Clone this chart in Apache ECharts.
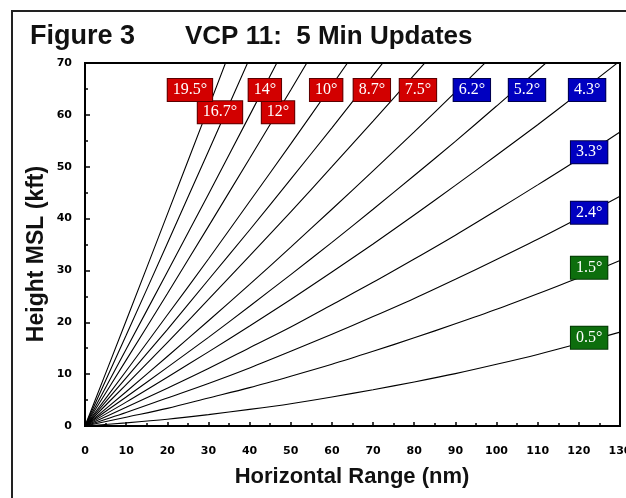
<!DOCTYPE html>
<html>
<head>
<meta charset="utf-8">
<script src="https://cdn.jsdelivr.net/npm/echarts@6/dist/echarts.min.js"></script>
<style>html,body{margin:0;padding:0;background:#fff;}#c{width:626px;height:498px;}</style>
</head>
<body>
<div id="c"></div>
<script>
// Horizontal range (nm) sample points
var ranges = [0, 10, 20, 30, 40, 50, 60, 70, 80, 90, 100, 110, 120, 130];
// Elevation angle names
var angles = ['0.5', '1.5', '2.4', '3.3', '4.3', '5.2', '6.2', '7.5', '8.7', '10', '12', '14', '16.7', '19.5'];
// Beam heights (kft MSL)
var h05  = [0, 0.6, 1.3, 2.2, 3.2, 4.3, 5.6, 7.0, 8.5, 10.1, 11.9, 13.8, 15.9, 18.1];
var h15  = [0, 1.7, 3.4, 5.4, 7.4, 9.6, 11.9, 14.4, 17.0, 19.7, 22.5, 25.5, 28.6, 31.9];
var h24  = [0, 2.6, 5.4, 8.2, 11.2, 14.4, 17.7, 21.1, 24.6, 28.3, 32.1, 36.0, 40.1, 44.3];
var h33  = [0, 3.6, 7.3, 11.1, 15.1, 19.1, 23.4, 27.7, 32.2, 36.8, 41.6, 46.5, 51.5, 56.7];
var h43  = [0, 4.6, 9.4, 14.3, 19.3, 24.4, 29.7, 35.1, 40.7, 46.4, 52.2, 58.1, 64.2, 70.4];
var h52  = [0, 5.6, 11.3, 17.1, 23.1, 29.2, 35.4, 41.8, 48.3, 54.9, 61.7, 68.6, 75.6, null];
var h62  = [0, 6.6, 13.4, 20.3, 27.3, 34.5, 41.8, 49.2, 56.7, 64.4, 72.2, null, null, null];
var h75  = [0, 8.0, 16.1, 24.4, 32.8, 41.3, 50.0, 58.8, 67.7, 76.7, null, null, null, null];
var h87  = [0, 9.3, 18.6, 28.2, 37.8, 47.6, 57.5, 67.6, 77.8, null, null, null, null, null];
var h100 = [0, 10.6, 21.4, 32.2, 43.3, 54.4, 65.7, 77.1, null, null, null, null, null, null];
var h120 = [0, 12.7, 25.5, 38.5, 51.6, 64.8, 78.2, null, null, null, null, null, null, null];
var h140 = [0, 14.8, 29.7, 44.7, 59.9, 75.2, null, null, null, null, null, null, null, null];
var h167 = [0, 17.5, 35.2, 53.0, 70.9, null, null, null, null, null, null, null, null, null];
var h195 = [0, 20.3, 40.8, 61.4, 82.2, null, null, null, null, null, null, null, null, null];
var heights = [h05, h15, h24, h33, h43, h52, h62, h75, h87, h100, h120, h140, h167, h195];
// Angle label anchors [range nm, height kft]
var labelAnchors = [
  [122.5, 17.0], [122.5, 30.5], [122.5, 41.1], [122.5, 52.8],
  [122.0, 64.8], [107.4, 64.8], [94.0, 64.8], [80.9, 64.8], [69.7, 64.8],
  [58.6, 64.8], [46.9, 60.5], [43.7, 64.8], [32.8, 60.5], [25.5, 64.8]
];
// Label groups: g = green, b = blue, r = red
var labelGroup = ['g', 'g', 'b', 'b', 'b', 'b', 'b', 'r', 'r', 'r', 'r', 'r', 'r', 'r'];
var xTicks = [0, 10, 20, 30, 40, 50, 60, 70, 80, 90, 100, 110, 120, 130];
var yTicks = [0, 10, 20, 30, 40, 50, 60, 70];

var groupStyle = {
  g: { bg: '#0d6e0d', border: '#063806' },
  b: { bg: '#0000c0', border: '#00004a' },
  r: { bg: '#d20000', border: '#5a0000' }
};

var series = angles.map(function (a, i) {
  return {
    type: 'line',
    name: a + '°',
    data: ranges.map(function (r, j) { return [r, heights[i][j]]; }),
    showSymbol: false,
    smooth: 0.3,
    lineStyle: { color: '#000', width: 1.1 },
    z: 2,
    silent: true
  };
});

series.push({
  type: 'scatter',
  name: 'labels',
  symbolSize: 0,
  itemStyle: { color: '#000', opacity: 1 },
  z: 10,
  silent: true,
  data: labelAnchors.map(function (p, i) {
    var st = groupStyle[labelGroup[i]];
    return {
      value: p,
      name: angles[i] + '°',
      label: {
        show: true,
        position: 'inside',
        formatter: '{b}',
        color: '#fff',
        opacity: 1,
        fontFamily: 'Liberation Serif, Times New Roman, serif',
        fontSize: 16,
        backgroundColor: st.bg,
        borderColor: st.border,
        borderWidth: 1,
        padding: [2, 5, 2, 5],
        lineHeight: 18
      }
    };
  })
});

var chart = echarts.init(document.getElementById('c'), null, { renderer: 'canvas' });
var tickFont = { fontFamily: 'DejaVu Sans', fontWeight: 'bold', fontSize: 11, color: '#000' };
chart.setOption({
  animation: false,
  backgroundColor: '#fff',
  grid: { left: 85, right: 6, top: 63, bottom: 72, outerBoundsMode: 'none', containLabel: false, show: true, borderColor: '#000', borderWidth: 2, backgroundColor: 'transparent' },
  xAxis: {
    type: 'value', min: xTicks[0], max: xTicks[xTicks.length - 1], interval: 10,
    axisLine: { show: true, lineStyle: { color: '#000', width: 2 } },
    axisTick: { show: true, inside: true, length: 4, lineStyle: { color: '#000', width: 1.5 } },
    minorTick: { show: true, splitNumber: 2, length: 3, lineStyle: { color: '#000', width: 1.5 } },
    splitLine: { show: false },
    axisLabel: Object.assign({ margin: 20 }, tickFont)
  },
  yAxis: {
    type: 'value', min: yTicks[0], max: yTicks[yTicks.length - 1], interval: 10,
    axisLine: { show: true, lineStyle: { color: '#000', width: 2 } },
    axisTick: { show: true, inside: true, length: 5, lineStyle: { color: '#000', width: 1.5 } },
    minorTick: { show: true, splitNumber: 2, length: 3, lineStyle: { color: '#000', width: 1.5 } },
    splitLine: { show: false },
    axisLabel: Object.assign({ margin: 13 }, tickFont)
  },
  graphic: [
    { type: 'rect', shape: { x: 12, y: 11, width: 700, height: 600 }, style: { fill: 'none', stroke: '#222', lineWidth: 2 }, z: 0, silent: true },
    { type: 'text', x: 30, y: 37, style: { text: 'Figure 3', fontFamily: 'Liberation Sans, Arial', fontWeight: 'bold', fontSize: 27, fill: '#111', textVerticalAlign: 'middle' }, z: 20 },
    { type: 'text', x: 185, y: 37, style: { text: 'VCP 11:  5 Min Updates', fontFamily: 'Liberation Sans, Arial', fontWeight: 'bold', fontSize: 26, fill: '#111', textVerticalAlign: 'middle' }, z: 20 },
    { type: 'text', x: 352, y: 477, style: { text: 'Horizontal Range (nm)', fontFamily: 'Liberation Sans, Arial', fontWeight: 'bold', fontSize: 22, fill: '#111', textAlign: 'center', textVerticalAlign: 'middle' }, z: 20 },
    { type: 'text', x: 37, y: 254, rotation: Math.PI / 2, style: { text: 'Height MSL (kft)', fontFamily: 'Liberation Sans, Arial', fontWeight: 'bold', fontSize: 23, fill: '#111', textAlign: 'center', textVerticalAlign: 'middle' }, z: 20 }
  ],
  series: series
});
</script>
</body>
</html>
